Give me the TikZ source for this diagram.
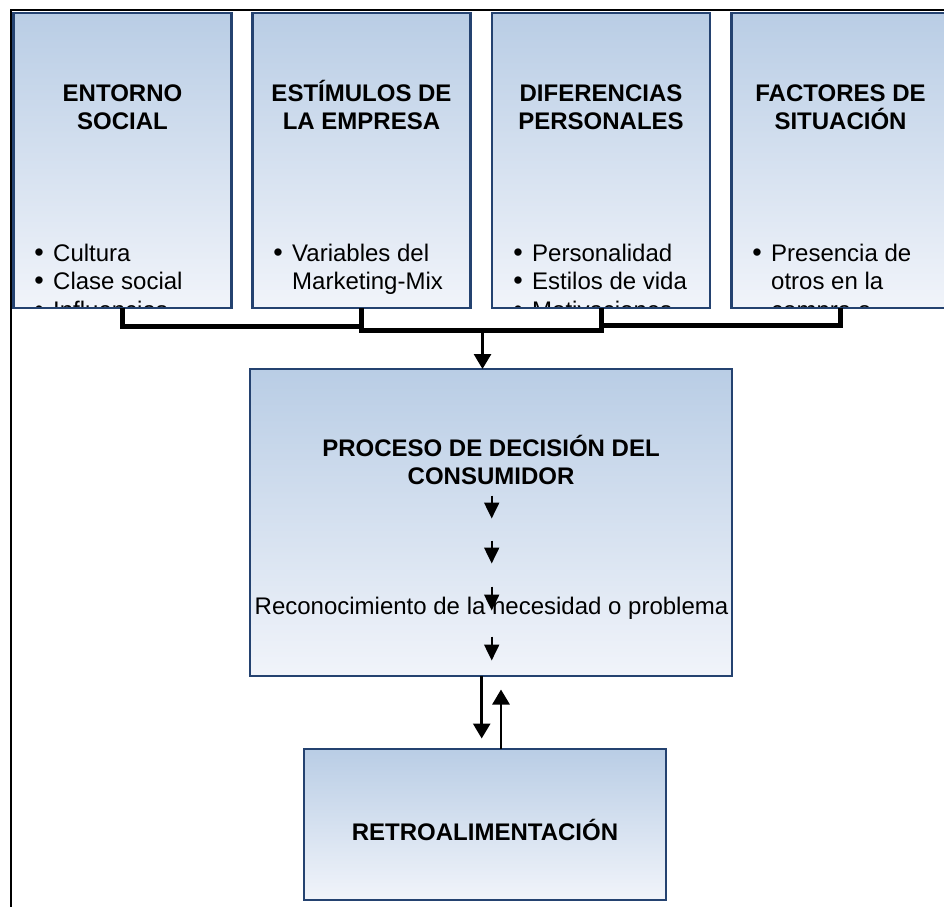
\documentclass[tikz,border=0pt]{standalone}
\usepackage{fontspec}
\setmainfont{Liberation Sans}
\usetikzlibrary{arrows.meta}

\definecolor{paneltop}{RGB}{185,205,229}
\definecolor{panelbot}{RGB}{241,244,250}
\definecolor{panelrim}{RGB}{36,66,112}

\tikzset{
  panel/.style={draw=panelrim, line width=2.4pt, top color=paneltop,
    bottom color=panelbot, inner sep=0pt, outer sep=0pt, rectangle},
  head/.style={anchor=base, inner sep=0pt,
    font=\bfseries\fontsize{24}{28}\selectfont},
  item/.style={anchor=base west, inner sep=0pt,
    font=\fontsize{24}{28}\selectfont},
  dot/.style={anchor=base, inner sep=0pt,
    font=\fontsize{27}{28}\selectfont},
  body/.style={anchor=base, inner sep=0pt,
    font=\fontsize{24}{28}\selectfont},
  bus/.style={draw=black, line width=5pt, line join=miter},
  feed/.style={draw=black, line width=2.8pt,
    -{Triangle[width=17pt,length=15pt]}},
  stepper/.style={draw=black, line width=2pt,
    -{Triangle[width=15pt,length=16pt]}},
  frameline/.style={draw=black, line width=1.9pt},
}

\begin{document}
\begin{tikzpicture}[x=1pt,y=-1pt]
\useasboundingbox (0,0) rectangle (944,907);
\clip (0,0) rectangle (944,907);

% outer frame (top and left edges)
\draw[frameline] (944,10.3) -- (10.6,10.3) -- (10.6,907);

% four influence panels
\node[panel, minimum width=218pt, minimum height=295pt] (b1) at (122.5,160.5) {};
\node[panel, minimum width=218pt, minimum height=295pt] (b2) at (361.5,160.5) {};
\node[panel, minimum width=218pt, minimum height=295pt] (b3) at (601,160.5) {};
\node[panel, minimum width=218pt, minimum height=295pt] (b4) at (840.5,160.5) {};

% panel 1
\begin{scope}
  \clip ([shift={(1.2pt,1.2pt)}]b1.south west) rectangle ([shift={(-1.2pt,-1.2pt)}]b1.north east);
  \node[head] (t1a) at (122.5,101.7) {ENTORNO};
  \node[head] (t1b) at (122.5,129) {SOCIAL};
  \node[dot] (d1a) at (39,261) {\textbullet};
  \node[item] (i1a) at (53,261) {Cultura};
  \node[dot] (d1b) at (39,289.5) {\textbullet};
  \node[item] (i1b) at (53,289.5) {Clase social};
  \node[dot] (d1c) at (39,318) {\textbullet};
  \node[item] (i1c) at (53,318) {Influencias};
\end{scope}

% panel 2
\begin{scope}
  \clip ([shift={(1.2pt,1.2pt)}]b2.south west) rectangle ([shift={(-1.2pt,-1.2pt)}]b2.north east);
  \node[head] (t2a) at (361.5,101.7) {ESTÍMULOS DE};
  \node[head] (t2b) at (361.5,129) {LA EMPRESA};
  \node[dot] (d2a) at (278,261) {\textbullet};
  \node[item] (i2a) at (292,261) {Variables del};
  \node[item] (i2b) at (292,289.5) {Marketing-Mix};
\end{scope}

% panel 3
\begin{scope}
  \clip ([shift={(1.2pt,1.2pt)}]b3.south west) rectangle ([shift={(-1.2pt,-1.2pt)}]b3.north east);
  \node[head] (t3a) at (601,101.7) {DIFERENCIAS};
  \node[head] (t3b) at (601,129) {PERSONALES};
  \node[dot] (d3a) at (518,261) {\textbullet};
  \node[item] (i3a) at (532,261) {Personalidad};
  \node[dot] (d3b) at (518,289.5) {\textbullet};
  \node[item] (i3b) at (532,289.5) {Estilos de vida};
  \node[dot] (d3c) at (518,318) {\textbullet};
  \node[item] (i3c) at (532,318) {Motivaciones};
\end{scope}

% panel 4
\begin{scope}
  \clip ([shift={(1.2pt,1.2pt)}]b4.south west) rectangle ([shift={(-1.2pt,-1.2pt)}]b4.north east);
  \node[head] (t4a) at (840.5,101.7) {FACTORES DE};
  \node[head] (t4b) at (840.5,129) {SITUACIÓN};
  \node[dot] (d4a) at (757,261) {\textbullet};
  \node[item] (i4a) at (771,261) {Presencia de};
  \node[item] (i4b) at (771,289.5) {otros en la};
  \node[item] (i4c) at (771,318) {compra o};
\end{scope}

% decision process panel
\node[panel, minimum width=482pt, minimum height=307pt] (b5) at (491,522.5) {};
\node[head] (t5a) at (491,456.5) {PROCESO DE DECISIÓN DEL};
\node[head] (t5b) at (491,484) {CONSUMIDOR};
\node[body] (r5) at (491.5,614) {Reconocimiento de la necesidad o problema};

% feedback panel
\node[panel, minimum width=362pt, minimum height=151pt] (b6) at (485,824.5) {};
\node[head] (t6) at (485,840) {RETROALIMENTACIÓN};

% bus joining the four panels
\coordinate (j12) at (361,326.5);
\coordinate (j23) at (601,330);
\coordinate (j34) at (840.5,325.5);
\draw[bus] (b1.south) |- (j12);
\draw[bus] (b2.south) |- (j23) -- (b3.south);
\draw[bus] (b3.south) |- (j34) -- (b4.south);

% drop into the decision process
\coordinate (drop) at (482.5,330);
\draw[feed] (drop) -- (drop |- b5.north);

% steps inside the decision process
\coordinate (s1a) at (491.7,495.5); \coordinate (s1b) at (491.7,518.5);
\coordinate (s2a) at (491.7,540.5); \coordinate (s2b) at (491.7,563.5);
\coordinate (s3a) at (491.7,586.5); \coordinate (s3b) at (491.7,610.5);
\coordinate (s4a) at (491.7,636.5); \coordinate (s4b) at (491.7,660.5);
\draw[stepper] (s1a) -- (s1b);
\draw[stepper] (s2a) -- (s2b);
\draw[stepper] (s3a) -- (s3b);
\draw[stepper] (s4a) -- (s4b);

% exchange with the feedback panel
\coordinate (dn) at (481.7,738.5);
\coordinate (up) at (501,689.5);
\draw[feed] (b5.south -| dn) -- (dn);
\draw[feed] (b6.north -| up) -- (up);
\end{tikzpicture}
\end{document}
